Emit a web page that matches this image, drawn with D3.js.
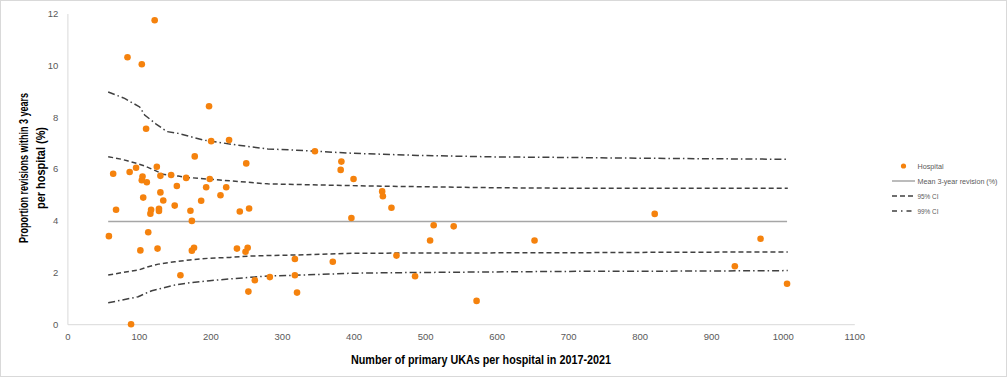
<!DOCTYPE html>
<html>
<head>
<meta charset="utf-8">
<script src="https://cdn.jsdelivr.net/npm/d3@7"></script>
<style>
  body { margin: 0; background: #fff; }
  svg { display: block; font-family: "Liberation Sans", Arial, sans-serif; }
</style>
</head>
<body>
<script>
// hospital volumes (x) and 3-year revision % (y)
const hospitalN = [58, 64, 68, 84, 87, 89, 96, 102, 104, 105, 104, 106, 110, 111, 113, 116, 117, 122, 125, 126,
  128, 128, 130, 130, 134, 145, 150, 153, 158, 166, 172, 174, 174, 177, 178, 187, 194, 198, 199, 201,
  214, 222, 226, 237, 241, 249, 250, 252, 254, 253, 262, 283, 318, 318, 321, 346, 371, 382, 383, 397,
  400, 440, 441, 453, 460, 486, 507, 512, 540, 572, 653, 821, 933, 969, 1006];
const hospitalRate = [3.40, 5.81, 4.42, 10.31, 5.88, 0, 6.04, 2.85, 10.04, 5.70, 5.56, 4.89, 7.55, 5.48, 3.55, 4.27, 4.42, 11.74, 6.08, 2.92,
  4.46, 4.37, 5.73, 5.09, 4.78, 5.76, 4.58, 5.34, 1.89, 5.65, 4.38, 3.99, 2.84, 2.95, 6.48, 4.77, 5.29, 8.42, 5.61, 7.07,
  4.98, 5.29, 7.11, 2.92, 4.35, 2.80, 6.21, 2.95, 4.47, 1.26, 1.70, 1.82, 2.52, 1.89, 1.22, 6.68, 2.41, 5.96, 6.28, 4.10,
  5.61, 5.13, 4.94, 4.50, 2.65, 1.85, 3.23, 3.82, 3.78, 0.90, 3.23, 4.26, 2.24, 3.30, 1.56];

const meanRate = 3.97;
const meanRange = [57, 1006];

// funnel limits
const ci99UpperN = [57, 80, 101, 108, 124, 139, 155, 190, 237, 280, 320, 400, 490, 600, 700, 800, 900, 1007];
const ci99Upper = [8.97, 8.72, 8.39, 8.08, 7.73, 7.44, 7.37, 7.11, 6.92, 6.77, 6.72, 6.60, 6.52, 6.46, 6.44, 6.41, 6.39, 6.37];
const ci95UpperN = [57, 76, 85, 97, 108, 123, 134, 155, 167, 213, 280, 350, 420, 493, 600, 703, 850, 1007];
const ci95Upper = [6.47, 6.37, 6.30, 6.21, 6.11, 5.93, 5.79, 5.72, 5.67, 5.57, 5.42, 5.38, 5.34, 5.31, 5.27, 5.25, 5.25, 5.25];
const ci95LowerN = [57, 76, 99, 113, 127, 150, 171, 199, 227, 255, 280, 330, 400, 500, 700, 850, 1007];
const ci95Lower = [1.90, 1.99, 2.09, 2.22, 2.32, 2.41, 2.48, 2.55, 2.58, 2.63, 2.65, 2.68, 2.74, 2.75, 2.76, 2.78, 2.79];
const ci99LowerN = [57, 76, 99, 109, 118, 132, 150, 171, 199, 227, 255, 280, 330, 400, 460, 600, 700, 850, 1007];
const ci99Lower = [0.83, 0.93, 1.06, 1.19, 1.29, 1.39, 1.51, 1.60, 1.68, 1.75, 1.81, 1.86, 1.90, 1.97, 1.99, 2.02, 2.04, 2.05, 2.07];

const xTicks = d3.range(0, 1101, 100);
const yTicks = d3.range(0, 13, 2);

const W = 1007, H = 377;
const orange = "#f5820d";
const ciColor = "#404040";
const dash95 = "5,3";
const dash99 = "7,3,1.5,3";

const svg = d3.select("body").append("svg")
  .attr("width", W)
  .attr("height", H);

// chart area border
svg.append("rect")
  .attr("x", 0.5).attr("y", 0.5)
  .attr("width", W - 1).attr("height", H - 1)
  .attr("fill", "#fff")
  .attr("stroke", "#d9d9d9");

const x = d3.scaleLinear().domain([0, 1100]).range([67.4, 854.3]);
const y = d3.scaleLinear().domain([0, 12]).range([324.2, 13.5]);

// axes (lines only, Excel style)
const xAxis = svg.append("g")
  .attr("transform", `translate(0,${y(0)})`)
  .call(d3.axisBottom(x).tickValues(xTicks).tickFormat(d3.format("d")).tickSize(0).tickPadding(9));
const yAxis = svg.append("g")
  .attr("transform", `translate(${x(0)},0)`)
  .call(d3.axisLeft(y).tickValues(yTicks).tickFormat(d3.format("d")).tickSize(0).tickPadding(9));

[xAxis, yAxis].forEach(g => {
  g.select(".domain").attr("stroke", "#d9d9d9").attr("stroke-width", 1);
  g.selectAll("text")
    .attr("fill", "#595959")
    .style("font-size", "9.5px");
});

// funnel lines
const line = d3.line().x(d => x(d[0])).y(d => y(d[1]));
const ciLines = [
  { n: ci99UpperN, v: ci99Upper, dash: dash99 },
  { n: ci95UpperN, v: ci95Upper, dash: dash95 },
  { n: ci95LowerN, v: ci95Lower, dash: dash95 },
  { n: ci99LowerN, v: ci99Lower, dash: dash99 }
];
ciLines.forEach(c => {
  svg.append("path")
    .datum(d3.zip(c.n, c.v))
    .attr("d", line)
    .attr("fill", "none")
    .attr("stroke", ciColor)
    .attr("stroke-width", 1.5)
    .attr("stroke-dasharray", c.dash);
});

// mean line
svg.append("line")
  .attr("x1", x(meanRange[0])).attr("x2", x(meanRange[1]))
  .attr("y1", y(meanRate)).attr("y2", y(meanRate))
  .attr("stroke", "#a6a6a6")
  .attr("stroke-width", 1.5);

// hospitals
svg.append("g")
  .selectAll("circle")
  .data(d3.zip(hospitalN, hospitalRate))
  .join("circle")
  .attr("cx", d => x(d[0]))
  .attr("cy", d => y(d[1]))
  .attr("r", 3.3)
  .attr("fill", orange);

// axis titles
svg.append("text")
  .attr("x", 481).attr("y", 364)
  .attr("text-anchor", "middle")
  .attr("font-weight", "bold")
  .attr("font-size", 12.5)
  .attr("fill", "#000")
  .attr("textLength", 260).attr("lengthAdjust", "spacingAndGlyphs")
  .text("Number of primary UKAs per hospital in 2017-2021");

const yTitle = svg.append("g").attr("transform", "translate(28,168) rotate(-90)");
yTitle.append("text")
  .attr("x", 0).attr("y", 0)
  .attr("text-anchor", "middle")
  .attr("font-weight", "bold")
  .attr("font-size", 12.5)
  .attr("textLength", 150).attr("lengthAdjust", "spacingAndGlyphs")
  .text("Proportion revisions within 3 years");
yTitle.append("text")
  .attr("x", 0).attr("y", 17)
  .attr("text-anchor", "middle")
  .attr("font-weight", "bold")
  .attr("font-size", 12.5)
  .attr("textLength", 82).attr("lengthAdjust", "spacingAndGlyphs")
  .text("per hospital (%)");

// legend
const legend = svg.append("g").attr("font-size", 7.6).attr("fill", "#595959");
const legendItems = [
  { label: "Hospital", kind: "dot", len: 26 },
  { label: "Mean 3-year revision (%)", kind: "mean", len: 80 },
  { label: "95% CI", kind: "ci95", len: 21 },
  { label: "99% CI", kind: "ci99", len: 21 }
];
legendItems.forEach((d, i) => {
  const ly = 166 + i * 15;
  if (d.kind === "dot") {
    legend.append("circle").attr("cx", 903.5).attr("cy", ly).attr("r", 2.6).attr("fill", orange);
  } else {
    legend.append("line")
      .attr("x1", 892).attr("x2", 915)
      .attr("y1", ly).attr("y2", ly)
      .attr("stroke", d.kind === "mean" ? "#a6a6a6" : ciColor)
      .attr("stroke-width", 1.5)
      .attr("stroke-dasharray", d.kind === "ci95" ? dash95 : d.kind === "ci99" ? "5,4,1.5,4" : null);
  }
  legend.append("text")
    .attr("x", 917.5).attr("y", ly + 3)
    .attr("textLength", d.len).attr("lengthAdjust", "spacingAndGlyphs")
    .text(d.label);
});
</script>
</body>
</html>
